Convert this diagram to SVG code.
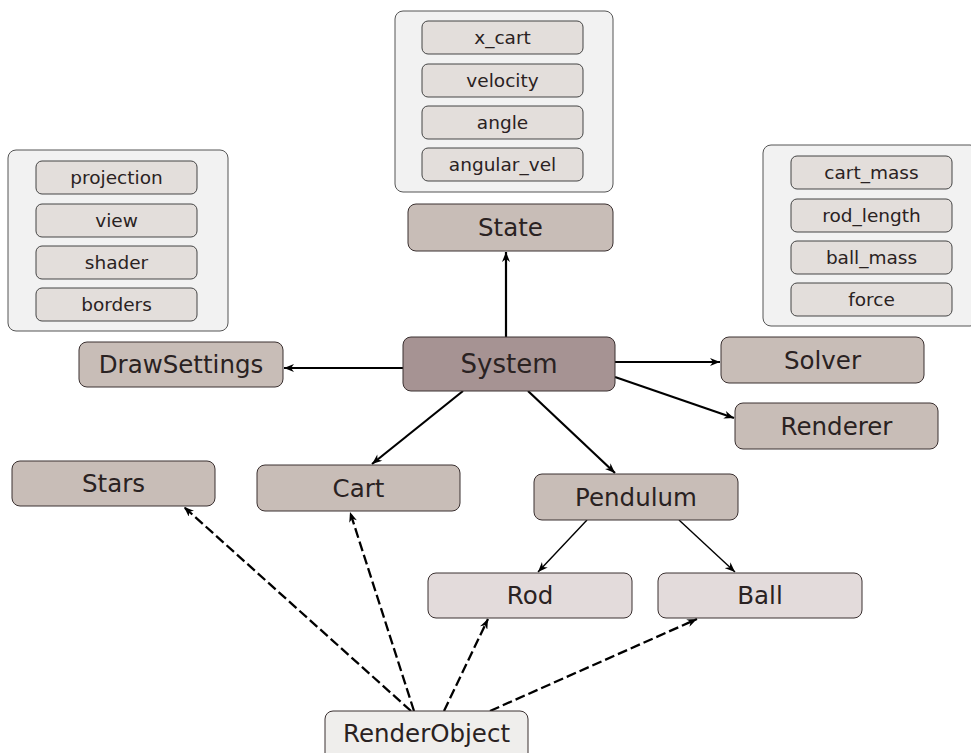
<svg xmlns="http://www.w3.org/2000/svg" width="971" height="753" viewBox="0 0 971 753">
<defs>
<style>
.cont{fill:#f2f2f2;stroke:#555;stroke-width:1}
.item{fill:#e3dedb;stroke:#444;stroke-width:1}
.node{fill:#c8bdb7;stroke:#3a3030;stroke-width:1}
.sys{fill:#a69393;stroke:#3a3030;stroke-width:1}
.leaf{fill:#e3dbdb;stroke:#3a3030;stroke-width:1}
.ro{fill:#efeeec;stroke:#3a3030;stroke-width:1}
text{font-family:"DejaVu Sans",sans-serif;fill:#2a2222;text-anchor:middle;dominant-baseline:central}
.big{font-size:24.5px}
.sm{font-size:18.5px}
.edge{stroke:#000;stroke-width:2.2;fill:none;marker-end:url(#ah)}
.thin{stroke:#000;stroke-width:1.4;fill:none;marker-end:url(#ah)}
.dash{stroke:#000;stroke-width:2.3;fill:none;stroke-dasharray:10,4;marker-end:url(#ah)}
</style>
<marker id="ah" viewBox="0 0 10 8" refX="10" refY="4" markerWidth="11" markerHeight="8" markerUnits="userSpaceOnUse" orient="auto">
<path d="M0,0 L10,4 L0,8 L3,4 z" fill="#000"/>
</marker>
</defs>
<rect width="971" height="753" fill="#fff"/>

<g id="state-fields">
<rect class="cont" x="395" y="11" width="218" height="181" rx="8"/>
<rect class="item" x="422" y="21" width="161" height="33" rx="6"/><text class="sm" x="502.5" y="37.5">x_cart</text>
<rect class="item" x="422" y="64" width="161" height="33" rx="6"/><text class="sm" x="502.5" y="80.5">velocity</text>
<rect class="item" x="422" y="106" width="161" height="33" rx="6"/><text class="sm" x="502.5" y="122.5">angle</text>
<rect class="item" x="422" y="148" width="161" height="33" rx="6"/><text class="sm" x="502.5" y="164.5">angular_vel</text>
</g>

<g id="draw-fields">
<rect class="cont" x="8" y="150" width="220" height="181" rx="8"/>
<rect class="item" x="36" y="161" width="161" height="33" rx="6"/><text class="sm" x="116.5" y="177.5">projection</text>
<rect class="item" x="36" y="204" width="161" height="33" rx="6"/><text class="sm" x="116.5" y="220.5">view</text>
<rect class="item" x="36" y="246" width="161" height="33" rx="6"/><text class="sm" x="116.5" y="262.5">shader</text>
<rect class="item" x="36" y="288" width="161" height="33" rx="6"/><text class="sm" x="116.5" y="304.5">borders</text>
</g>

<g id="solver-fields">
<rect class="cont" x="763" y="145" width="215" height="181" rx="8"/>
<rect class="item" x="791" y="156" width="161" height="33" rx="6"/><text class="sm" x="871.5" y="172.5">cart_mass</text>
<rect class="item" x="791" y="199" width="161" height="33" rx="6"/><text class="sm" x="871.5" y="215.5">rod_length</text>
<rect class="item" x="791" y="241" width="161" height="33" rx="6"/><text class="sm" x="871.5" y="257.5">ball_mass</text>
<rect class="item" x="791" y="283" width="161" height="33" rx="6"/><text class="sm" x="871.5" y="299.5">force</text>
</g>

<g id="connectors">
<line class="edge" x1="506" y1="337" x2="506" y2="252"/>
<line class="edge" x1="403" y1="368" x2="284" y2="368"/>
<line class="edge" x1="615" y1="362" x2="720" y2="362"/>
<line class="edge" x1="615" y1="377" x2="734" y2="418"/>
<line class="edge" x1="463" y1="391" x2="372" y2="464"/>
<line class="edge" x1="528" y1="391" x2="615" y2="473"/>
<line class="thin" x1="587" y1="520" x2="538" y2="572"/>
<line class="thin" x1="679" y1="520" x2="735" y2="572"/>
<line class="dash" x1="411" y1="711" x2="184" y2="507"/>
<line class="dash" x1="414" y1="711" x2="350" y2="512"/>
<line class="dash" x1="444" y1="711" x2="488" y2="619"/>
<line class="dash" x1="490" y1="711" x2="697" y2="619"/>
</g>

<g id="State"><rect class="node" x="408" y="204" width="205" height="47" rx="8"/><text class="big" x="510.5" y="227.5">State</text></g>
<g id="DrawSettings"><rect class="node" x="79" y="342" width="204" height="45" rx="8"/><text class="big" x="181" y="364.5">DrawSettings</text></g>
<g id="System"><rect class="sys" x="403" y="337" width="212" height="54" rx="8"/><text x="509" y="364" style="font-size:26px">System</text></g>
<g id="Solver"><rect class="node" x="721" y="337" width="203" height="46" rx="8"/><text class="big" x="822.5" y="360">Solver</text></g>
<g id="Renderer"><rect class="node" x="735" y="403" width="203" height="46" rx="8"/><text class="big" x="836.5" y="426">Renderer</text></g>
<g id="Stars"><rect class="node" x="12" y="461" width="203" height="45" rx="8"/><text class="big" x="113.5" y="483.5">Stars</text></g>
<g id="Cart"><rect class="node" x="257" y="465" width="203" height="46" rx="8"/><text class="big" x="358.5" y="488">Cart</text></g>
<g id="Pendulum"><rect class="node" x="534" y="474" width="204" height="46" rx="8"/><text class="big" x="636" y="497">Pendulum</text></g>
<g id="Rod"><rect class="leaf" x="428" y="573" width="204" height="45" rx="8"/><text class="big" x="530" y="595.5">Rod</text></g>
<g id="Ball"><rect class="leaf" x="658" y="573" width="204" height="45" rx="8"/><text class="big" x="760" y="595.5">Ball</text></g>
<g id="RenderObject"><rect class="ro" x="325" y="711" width="203" height="52" rx="8"/><text class="big" x="426.5" y="733">RenderObject</text></g>
</svg>
